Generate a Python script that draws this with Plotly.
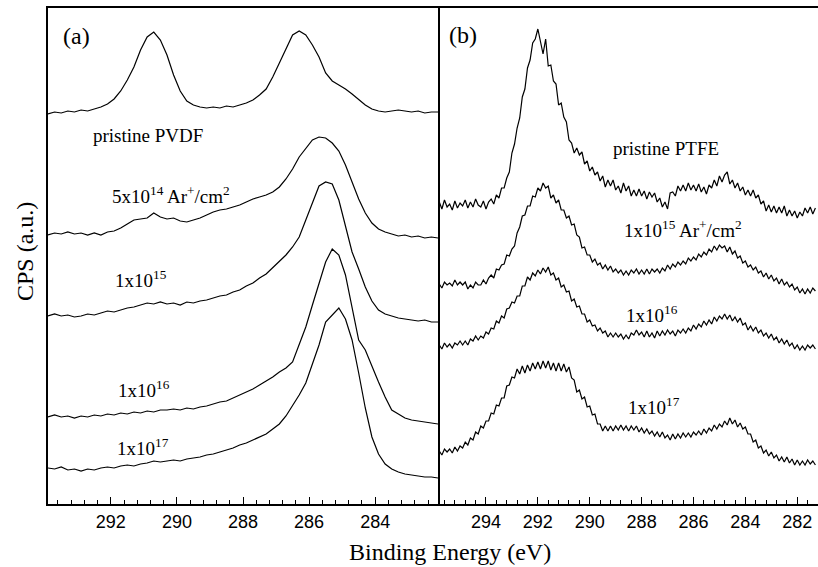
import numpy as np
import plotly.graph_objects as go

# ---------------- data ----------------
# Panel (a): C 1s spectra of PVDF, binding energy grid 293.9 -> 282.1 eV, step 0.2 eV
a_start, a_step = 293.9, 0.2
pvdf_pristine = [391, 393, 392, 394, 393, 395, 394, 396, 398, 401,
                 406, 414, 425, 438, 455, 468, 473, 465, 450, 430,
                 414, 404, 400, 398, 397, 398, 397, 399, 398, 400,
                 402, 405, 410, 416, 428, 442, 456, 470, 474, 470,
                 460, 448, 432, 424, 420, 416, 411, 405, 400, 396,
                 394, 393, 394, 395, 394, 393, 394, 392, 393, 393]
pvdf_5e14 = [270, 272, 271, 273, 271, 272, 270, 272, 270, 273,
             274, 277, 281, 285, 286, 287, 292, 288, 286, 287,
             284, 283, 285, 287, 290, 293, 295, 296, 298, 300,
             303, 306, 308, 310, 313, 318, 326, 336, 348, 357,
             365, 368, 367, 362, 354, 340, 322, 306, 292, 282,
             276, 273, 271, 269, 270, 268, 269, 267, 268, 267]
pvdf_1e15 = [189, 191, 189, 190, 188, 189, 191, 190, 192, 194,
             193, 195, 197, 198, 200, 202, 201, 203, 201, 202,
             200, 203, 202, 204, 205, 207, 209, 210, 213, 215,
             219, 222, 227, 231, 237, 244, 250, 258, 268, 285,
             303, 319, 323, 321, 305, 278, 253, 236, 218, 204,
             195, 191, 189, 187, 186, 185, 184, 185, 183, 183]
pvdf_1e16 = [88, 90, 88, 89, 87, 89, 88, 90, 89, 91,
             90, 92, 91, 93, 92, 94, 93, 95, 95, 96,
             95, 97, 96, 98, 99, 101, 103, 104, 107, 110,
             113, 116, 120, 124, 128, 133, 137, 143, 160, 178,
             200, 222, 243, 256, 250, 230, 196, 165, 155, 138,
             123, 108, 95, 91, 87, 85, 84, 83, 82, 81]
pvdf_1e17 = [37, 36, 38, 35, 36, 34, 36, 35, 37, 38,
             37, 39, 40, 39, 41, 42, 44, 43, 44, 45,
             44, 46, 47, 48, 50, 51, 53, 55, 57, 60,
             62, 65, 68, 71, 76, 81, 89, 99, 110, 122,
             140, 160, 183, 190, 197, 186, 165, 132, 97, 68,
             51, 41, 36, 33, 31, 30, 29, 28, 28, 27]

# Panel (b): C 1s spectra of PTFE, grid 295.8 -> 281.3 eV, step 0.1 eV
b_start, b_step = 295.8, 0.1
ptfe_pristine = [303, 296, 305, 298, 301, 295, 304, 297, 302, 299,
                 305, 297, 303, 298, 306, 300, 298, 304, 296, 303,
                 306, 301, 310, 307, 317, 317, 327, 333, 352, 361,
                 377, 387, 408, 416, 437, 445, 462, 466, 476, 462,
                 451, 466, 439, 440, 424, 421, 400, 402, 388, 383,
                 365, 362, 352, 357, 350, 353, 341, 344, 334, 338,
                 330, 333, 324, 329, 318, 325, 319, 325, 315, 319,
                 312, 322, 314, 319, 309, 315, 309, 316, 309, 314,
                 306, 313, 308, 312, 303, 307, 298, 303, 296, 312,
                 313, 309, 319, 314, 320, 314, 322, 315, 320, 314,
                 321, 313, 318, 311, 320, 317, 325, 319, 329, 323,
                 330, 333, 321, 325, 317, 322, 314, 318, 310, 315,
                 309, 315, 307, 310, 301, 304, 294, 300, 293, 299,
                 292, 298, 292, 299, 289, 295, 289, 294, 287, 293,
                 289, 297, 292, 298, 291, 297]
ptfe_1e15 = [221, 217, 223, 220, 222, 219, 225, 220, 223, 220,
             223, 216, 220, 217, 223, 220, 220, 225, 221, 227,
             230, 227, 236, 235, 240, 241, 250, 249, 256, 259,
             272, 278, 289, 290, 299, 299, 309, 308, 317, 314,
             322, 317, 319, 307, 310, 302, 305, 295, 295, 287,
             289, 280, 281, 270, 268, 257, 258, 250, 250, 243,
             246, 240, 242, 236, 240, 235, 239, 233, 236, 232,
             235, 230, 234, 230, 235, 232, 236, 231, 235, 231,
             236, 231, 236, 233, 236, 232, 237, 234, 240, 236,
             241, 238, 243, 240, 244, 241, 247, 244, 248, 245,
             251, 248, 253, 250, 256, 253, 259, 255, 260, 257,
             259, 253, 258, 251, 254, 247, 249, 242, 244, 238,
             240, 235, 238, 232, 234, 228, 232, 226, 230, 224,
             227, 221, 226, 220, 223, 218, 221, 215, 218, 212,
             216, 211, 216, 212, 217, 214]
ptfe_1e16 = [160, 156, 162, 158, 161, 157, 162, 160, 164, 160,
             164, 160, 166, 164, 169, 165, 169, 167, 173, 171,
             177, 176, 184, 182, 189, 187, 196, 197, 203, 202,
             209, 209, 219, 219, 228, 225, 232, 229, 235, 231,
             237, 233, 238, 230, 232, 225, 227, 218, 220, 213,
             214, 204, 206, 198, 199, 191, 191, 183, 185, 179,
             180, 174, 177, 172, 174, 168, 172, 168, 172, 168,
             171, 166, 170, 166, 172, 170, 175, 170, 173, 168,
             174, 168, 172, 167, 174, 169, 174, 170, 175, 171,
             174, 169, 175, 172, 176, 172, 177, 174, 180, 176,
             181, 178, 184, 180, 185, 181, 188, 184, 189, 186,
             191, 186, 190, 184, 188, 183, 187, 180, 182, 175,
             179, 174, 178, 172, 175, 169, 172, 167, 171, 165,
             168, 162, 166, 161, 165, 159, 162, 156, 160, 155,
             159, 155, 160, 157, 160, 156]
ptfe_1e17 = [54, 50, 56, 53, 56, 52, 58, 54, 59, 57,
             63, 60, 67, 65, 73, 71, 79, 77, 84, 84,
             92, 91, 100, 99, 107, 107, 119, 120, 128, 127,
             136, 131, 139, 132, 140, 134, 142, 136, 143, 136,
             144, 137, 144, 135, 142, 134, 142, 134, 141, 133,
             138, 127, 125, 113, 115, 106, 108, 98, 99, 90,
             91, 81, 81, 74, 79, 74, 79, 74, 79, 75,
             80, 75, 79, 74, 79, 75, 79, 73, 77, 72,
             76, 71, 74, 69, 73, 68, 73, 67, 70, 65,
             71, 66, 71, 67, 72, 68, 72, 68, 73, 70,
             74, 70, 76, 72, 77, 74, 80, 76, 81, 78,
             84, 80, 87, 81, 85, 78, 82, 76, 78, 71,
             71, 63, 65, 57, 59, 52, 55, 49, 53, 47,
             50, 44, 48, 43, 48, 42, 46, 40, 45, 40,
             44, 40, 45, 41, 44, 40]

panel_a_series = [pvdf_pristine, pvdf_5e14, pvdf_1e15, pvdf_1e16, pvdf_1e17]
panel_b_series = [ptfe_pristine, ptfe_1e15, ptfe_1e16, ptfe_1e17]

panel_a_range = [293.9, 282.1]
panel_b_range = [295.85, 281.2]
y_range = [1, 497]

# ---------------- figure ----------------
W, H = 818, 567
ML, MR, MT, MB = 48, 0, 8, 63
PW, PH = W - ML - MR, H - MT - MB
split = (438 - ML) / PW

fig = go.Figure()
line_style = dict(color="black", width=1.2)

for ys in panel_a_series:
    xs = np.round(a_start - a_step * np.arange(len(ys)), 3)
    fig.add_trace(go.Scatter(x=xs, y=ys, mode="lines", line=line_style,
                             xaxis="x", yaxis="y", showlegend=False, hoverinfo="skip"))
for ys in panel_b_series:
    xs = np.round(b_start - b_step * np.arange(len(ys)), 3)
    fig.add_trace(go.Scatter(x=xs, y=ys, mode="lines", line=line_style,
                             xaxis="x2", yaxis="y2", showlegend=False, hoverinfo="skip"))

tickfont = dict(family="Liberation Sans", size=18, color="black")
xcommon = dict(showline=True, linecolor="black", linewidth=1.5, mirror=True,
               ticks="inside", ticklen=7, tickwidth=1.2, tickcolor="black",
               dtick=2, tick0=0, tickfont=tickfont, showgrid=False, zeroline=False,
               ticklabelstandoff=1,
               minor=dict(ticks="inside", ticklen=4, tickwidth=1, tickcolor="black",
                          dtick=0.4, tick0=0, showgrid=False))
ybase = dict(showticklabels=False, ticks="", showgrid=False, zeroline=False,
             range=y_range)

fig.update_layout(
    width=W, height=H,
    margin=dict(l=ML, r=MR, t=MT, b=MB),
    paper_bgcolor="white", plot_bgcolor="white",
    xaxis=dict(domain=[0, split], range=panel_a_range, anchor="y", **xcommon),
    xaxis2=dict(domain=[split, 1], range=panel_b_range, anchor="y2", **xcommon),
    yaxis=dict(domain=[0, 1], anchor="x", showline=True, linecolor="black",
               linewidth=1.5, mirror=True, **ybase),
    yaxis2=dict(domain=[0, 1], anchor="x2", showline=False, **ybase),
)


def px(xp, yp):
    return (xp - ML) / PW, (MT + PH - yp) / PH


serif = "Liberation Serif"
labels = [
    ("(a)", 76, 36, 24),
    ("(b)", 463, 35, 24),
    ("pristine PVDF", 148, 135, 19),
    ("5x10<sup>14</sup> Ar<sup>+</sup>/cm<sup>2</sup>", 171, 195, 19),
    ("1x10<sup>15</sup>", 141, 279, 19),
    ("1x10<sup>16</sup>", 144, 389, 19),
    ("1x10<sup>17</sup>", 143, 447, 19),
    ("pristine PTFE", 666, 148, 19),
    ("1x10<sup>15</sup> Ar<sup>+</sup>/cm<sup>2</sup>", 683, 229, 19),
    ("1x10<sup>16</sup>", 652, 314, 19),
    ("1x10<sup>17</sup>", 654, 406, 19),
]
for text, xp, yp, size in labels:
    ax, ay = px(xp, yp)
    fig.add_annotation(text=text, x=ax, y=ay, xref="paper", yref="paper",
                       showarrow=False, xanchor="center", yanchor="middle",
                       font=dict(family=serif, size=size, color="black"))

ax, ay = px(25, 252)
fig.add_annotation(text="CPS (a.u.)", x=ax, y=ay, xref="paper", yref="paper",
                   showarrow=False, textangle=-90, xanchor="center", yanchor="middle",
                   font=dict(family=serif, size=24, color="black"))
ax, ay = px(450, 552)
fig.add_annotation(text="Binding Energy (eV)", x=ax, y=ay, xref="paper", yref="paper",
                   showarrow=False, xanchor="center", yanchor="middle",
                   font=dict(family=serif, size=24, color="black"))

fig.write_html("out.html")
